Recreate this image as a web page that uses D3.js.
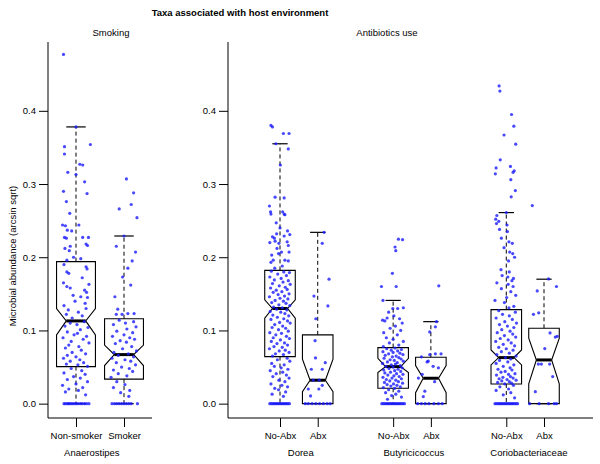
<!DOCTYPE html>
<html><head><meta charset="utf-8">
<script src="https://cdn.jsdelivr.net/npm/d3@7"></script>
<style>
body{margin:0;background:#fff;}
text{font-family:"Liberation Sans",Arial,Helvetica,sans-serif;}
</style></head>
<body><svg id="c" width="600" height="464"></svg>
<script>
// ---------- data ----------
const title = "Taxa associated with host environment";
const panelTitles = ["Smoking", "Antibiotics use"];
const yLabel = "Microbial abundance (arcsin sqrt)";
const yTicks = [0, 0.1, 0.2, 0.3, 0.4];
const categories = ["Non-smoker", "Smoker", "No-Abx", "Abx", "No-Abx", "Abx", "No-Abx", "Abx"];
const panelOf = [0, 0, 1, 1, 1, 1, 1, 1];
const positions = [1, 2, 1, 2, 4, 5, 7, 8];
const taxa = ["Anaerostipes", "Dorea", "Butyricicoccus", "Coriobacteriaceae"];
const taxaPanel = [0, 1, 1, 1];
const taxaCenter = [1.33, 1.55, 4.55, 7.6];

const whiskerHi = [0.378, 0.229, 0.355, 0.234, 0.141, 0.112, 0.261, 0.170];
const q3 = [0.194, 0.116, 0.182, 0.094, 0.0765, 0.0634, 0.1285, 0.103];
const median = [0.113, 0.067, 0.130, 0.032, 0.0506, 0.0347, 0.0629, 0.0597];
const q1 = [0.0506, 0.0335, 0.0643, 0, 0.021, 0, 0.0269, 0];
const whiskerLo = [0, 0, 0, 0, 0, 0, 0, 0];
const notchHi = [0.130, 0.080, 0.1417, 0.0607, 0.062, 0.052, 0.0734, 0.0894];
const notchLo = [0.094, 0.052, 0.1167, 0.0164, 0.0424, 0.015, 0.0529, 0.027];

// points: [value, horizontal jitter in category units]
const nonSmoker = [[0.477,-0.26],[0.378,0.0],[0.354,0.30],[0.351,-0.24],[0.341,-0.24],[0.327,0.08],[0.326,0.14],[0.316,-0.17],[0.313,0.0],[0.303,0.18],[0.290,-0.26],[0.287,0.23],[0.276,-0.20],[0.260,-0.13],[0.244,-0.28],[0.243,-0.22],[0.244,0.06],[0.237,-0.18],[0.236,-0.09],[0.227,-0.24],[0.226,-0.20],[0.227,0.14],[0.227,0.26],[0.218,0.21],[0.216,0.24],[0.212,-0.23],[0.215,-0.12],[0.209,-0.14],[0.200,-0.05],[0.198,0.10],[0.196,-0.19],
[0.190,-0.25],[0.187,0.21],[0.184,0.23],[0.180,-0.19],[0.178,-0.15],[0.172,0.13],[0.165,-0.26],[0.163,0.27],[0.160,-0.19],[0.158,-0.12],[0.155,0.18],[0.152,0.22],[0.148,-0.06],[0.146,0.10],[0.145,0.24],[0.140,-0.02],[0.137,0.19],[0.134,-0.25],[0.130,0.21],[0.128,-0.16],[0.125,0.05],[0.122,-0.20],[0.120,0.13],[0.117,-0.08],[0.112,0.17],[0.110,-0.12],[0.108,0.02],[0.106,-0.23],[0.104,0.25],[0.101,0.09],[0.098,-0.18],[0.096,0.03],[0.094,-0.04],[0.092,0.22],[0.090,-0.27],[0.088,0.15],[0.085,-0.10],[0.083,0.27],[0.080,-0.15],[0.078,0.06],[0.076,-0.22],[0.073,0.11],[0.070,-0.08],[0.068,0.20],[0.066,-0.18],[0.064,0.00],[0.062,-0.26],[0.060,0.08],[0.058,-0.12],[0.056,0.16],[0.054,-0.20],[0.053,0.04],[0.051,0.24],
[0.048,-0.10],[0.045,0.12],[0.042,-0.25],[0.040,0.19],[0.037,-0.05],[0.035,0.09],[0.033,-0.18],[0.030,0.24],[0.027,0.00],[0.025,-0.28],[0.022,0.14],[0.020,-0.15],[0.018,0.05],[0.016,-0.22],[0.012,0.20],
[0,-0.25],[0,-0.22],[0,-0.18],[0,-0.15],[0,-0.12],[0,-0.08],[0,-0.04],[0,0],[0,0.04],[0,0.09],[0,0.13],[0,0.18],[0,0.22],[0,0.27]];

const smoker = [[0.307,0.05],[0.288,0.20],[0.272,0.15],[0.266,-0.10],[0.254,0.27],[0.229,0.0],[0.215,-0.16],[0.207,0.24],[0.195,0.17],[0.185,0.08],[0.173,-0.03],[0.162,0.14],[0.146,-0.19],[0.129,-0.13],[0.122,-0.16],[0.122,-0.04],[0.123,0.08],[0.123,0.21],
[0.114,-0.10],[0.112,0.20],[0.110,0.03],[0.108,-0.22],[0.105,0.25],[0.102,0.06],[0.099,-0.15],[0.097,0.18],[0.094,0.00],[0.092,-0.24],[0.090,0.12],[0.088,0.22],[0.086,-0.08],[0.084,0.05],[0.082,-0.18],[0.078,0.16],[0.075,-0.03],[0.072,0.26],[0.070,-0.21],[0.068,0.09],[0.066,-0.12],[0.064,0.20],[0.062,-0.25],[0.060,0.02],[0.058,0.14],[0.056,-0.16],[0.053,0.24],[0.050,-0.05],[0.048,0.11],[0.046,-0.22],[0.044,0.18],[0.041,-0.12],[0.038,0.06],[0.036,-0.27],
[0.030,-0.15],[0.026,0.02],[0.022,-0.22],[0.018,0.12],[0.015,-0.07],[0.010,0.10],
[0,-0.25],[0,-0.2],[0,-0.15],[0,-0.1],[0,-0.05],[0,0],[0,0.05],[0,0.1],[0,0.15],[0,0.28]];

const doreaNoAbx = [[0.380,-0.24],[0.378,-0.20],[0.369,0.09],[0.369,0.24],[0.355,-0.11],[0.348,0.22],[0.326,0.01],[0.282,-0.13],[0.281,0.11],[0.270,-0.28],[0.262,-0.25],[0.259,-0.24],[0.262,0.07],[0.259,0.11],[0.258,0.13],[0.247,-0.10],[0.240,0.00],[0.236,0.20],[0.228,-0.20],[0.226,-0.15],[0.232,-0.09],[0.229,0.11],[0.231,0.26],[0.220,-0.27],[0.222,-0.13],[0.219,-0.03],[0.221,0.19],[0.216,0.22],[0.212,-0.08],[0.207,0.04],[0.205,-0.04],[0.207,0.24],[0.203,-0.22],[0.196,-0.18],[0.196,0.13],[0.195,0.22],[0.193,-0.24],[0.188,0.06],[0.185,-0.14],
[0.181,-0.23],[0.180,0.10],[0.179,0.25],[0.177,-0.06],[0.175,0.17],[0.173,-0.27],[0.171,0.03],[0.169,-0.15],[0.168,0.22],[0.166,0.08],[0.164,-0.20],[0.163,0.27],[0.161,-0.02],[0.159,0.14],[0.158,-0.25],[0.156,0.19],[0.155,-0.10],[0.153,0.05],[0.152,-0.18],[0.150,0.24],[0.149,-0.05],[0.147,0.12],[0.146,-0.28],[0.144,0.00],[0.143,0.21],[0.141,-0.13],[0.140,0.09],[0.138,-0.22],[0.137,0.16],[0.135,-0.03],[0.134,0.26],[0.132,-0.17],[0.131,0.06],[0.129,-0.09],[0.128,0.18],[0.126,-0.26],[0.125,0.02],[0.123,0.13],[0.121,-0.19],[0.120,0.23],[0.118,-0.07],[0.116,0.10],[0.115,-0.24],[0.113,0.20],[0.111,-0.01],[0.110,0.27],[0.108,-0.14],[0.106,0.07],[0.104,-0.21],[0.103,0.15],[0.101,-0.04],[0.099,0.22],[0.097,-0.27],[0.096,0.04],[0.094,-0.11],[0.092,0.17],[0.090,-0.18],[0.089,0.25],[0.087,0.01],[0.085,-0.23],[0.083,0.12],[0.082,-0.08],[0.080,0.20],[0.078,-0.16],[0.077,0.06],[0.075,-0.28],[0.073,0.14],[0.072,-0.02],[0.070,0.24],[0.068,-0.12],[0.067,0.09],[0.065,-0.20],
[0.062,0.19],[0.060,-0.07],[0.058,0.26],[0.055,-0.22],[0.053,0.11],[0.051,-0.15],[0.049,0.03],[0.047,0.21],[0.045,-0.26],[0.043,0.07],[0.041,-0.10],[0.039,0.17],[0.037,-0.19],[0.035,0.24],[0.032,-0.03],[0.030,0.13],[0.027,-0.24],[0.025,0.05],[0.023,0.20],[0.021,-0.14],[0.019,-0.04],[0.016,0.15],[0.013,-0.21],[0.010,0.09],
[0,-0.27],[0,-0.23],[0,-0.19],[0,-0.15],[0,-0.11],[0,-0.07],[0,-0.03],[0,0.01],[0,0.05],[0,0.09],[0,0.13],[0,0.17],[0,0.21],[0,0.25]];

const doreaAbx = [[0.234,0.17],[0.219,0.12],[0.170,0.30],[0.147,-0.10],[0.1335,0.27],[0.116,-0.05],[0.086,-0.07],[0.0625,-0.06],[0.056,0.20],[0.047,-0.17],[0.047,0.12],[0.032,-0.12],[0.032,0.04],[0.025,0.12],[0.020,-0.25],[0.020,0.03],[0.0105,-0.19],
[0,-0.33],[0,-0.25],[0,-0.15],[0,-0.05],[0,0.05],[0,0.15],[0,0.25],[0,0.33]];

const butyNoAbx = [[0.2246,0.14],[0.224,0.25],[0.214,0.05],[0.209,0.07],[0.178,-0.02],[0.160,-0.31],[0.160,0.08],[0.141,-0.27],[0.130,-0.01],[0.130,0.12],[0.131,0.27],[0.125,-0.12],[0.120,0.02],[0.117,-0.16],[0.114,-0.28],[0.113,-0.22],[0.116,0.17],[0.110,0.24],[0.106,0.06],[0.103,-0.08],[0.100,0.20],[0.097,-0.25],[0.094,0.11],[0.090,-0.18],[0.088,0.00],[0.085,0.27],[0.083,-0.10],[0.080,0.15],[0.078,-0.26],
[0.076,0.05],[0.075,-0.17],[0.074,0.22],[0.073,-0.05],[0.072,0.12],[0.071,-0.27],[0.070,0.00],[0.069,0.18],[0.068,-0.12],[0.067,0.26],[0.066,-0.21],[0.065,0.08],[0.064,-0.02],[0.063,0.15],[0.062,-0.24],[0.061,0.21],[0.060,-0.08],[0.059,0.03],[0.058,0.27],[0.057,-0.15],[0.056,0.11],[0.055,-0.28],[0.054,0.06],[0.053,-0.05],[0.052,0.19],[0.051,-0.19],[0.050,0.00],[0.049,0.24],[0.048,-0.11],[0.047,0.13],[0.046,-0.25],[0.045,0.04],[0.044,0.20],[0.043,-0.07],[0.042,-0.22],[0.041,0.09],[0.040,0.26],[0.039,-0.14],[0.038,0.02],[0.037,0.16],[0.036,-0.27],[0.035,-0.03],[0.034,0.22],[0.033,-0.18],[0.032,0.07],[0.031,-0.09],[0.030,0.14],[0.029,-0.23],[0.028,0.25],[0.027,0.01],[0.026,-0.16],[0.025,0.10],[0.024,-0.06],[0.023,0.19],[0.022,-0.26],[0.021,0.04],
[0.019,-0.12],[0.017,0.15],[0.015,-0.20],[0.013,0.07],[0.011,-0.04],[0.009,0.22],[0.006,-0.15],
[0,-0.30],[0,-0.26],[0,-0.22],[0,-0.18],[0,-0.14],[0,-0.10],[0,-0.06],[0,-0.02],[0,0.02],[0,0.06],[0,0.10],[0,0.14],[0,0.18],[0,0.22],[0,0.26],[0,0.30]];

const butyAbx = [[0.161,0.21],[0.112,0.15],[0.105,0.12],[0.098,-0.03],[0.068,0.12],[0.068,0.27],[0.067,-0.03],[0.064,-0.25],[0.058,-0.07],[0.057,-0.10],[0.051,0.06],[0.049,0.20],[0.040,-0.23],[0.035,-0.33],[0.030,0.10],[0.017,-0.16],[0.0096,-0.20],
[0,-0.35],[0,-0.25],[0,-0.15],[0,-0.05],[0,0.08],[0,0.20],[0,0.30]];

const corioNoAbx = [[0.434,-0.19],[0.427,-0.17],[0.395,0.14],[0.379,0.20],[0.367,-0.06],[0.3545,0.25],[0.333,-0.16],[0.322,-0.27],[0.324,0.11],[0.314,-0.29],[0.318,0.21],[0.316,0.18],[0.306,0.12],[0.291,0.24],[0.2825,0.13],
[0.261,0.0],[0.257,-0.25],[0.252,-0.28],[0.249,-0.20],[0.246,-0.26],[0.244,0.02],[0.238,-0.18],[0.235,0.03],[0.226,-0.13],[0.221,0.07],[0.219,0.16],[0.213,-0.06],[0.207,0.09],[0.205,0.17],[0.200,0.22],[0.195,0.06],[0.183,-0.14],[0.180,0.08],[0.175,-0.11],[0.173,0.04],[0.171,0.19],[0.168,0.15],[0.165,-0.25],[0.163,0.05],[0.160,0.18],[0.157,-0.13],[0.153,0.12],[0.148,0.25],[0.145,0.01],[0.141,-0.30],[0.138,-0.05],[0.133,0.20],[0.131,0.07],
[0.127,-0.20],[0.125,0.24],[0.122,-0.10],[0.120,0.08],[0.117,-0.27],[0.115,0.16],[0.112,-0.04],[0.110,0.27],[0.108,-0.18],[0.106,0.03],[0.104,0.20],[0.101,-0.12],[0.099,0.10],[0.097,-0.24],[0.095,0.17],[0.093,-0.05],[0.091,0.25],[0.089,-0.16],[0.087,0.05],[0.085,-0.28],[0.083,0.13],[0.081,-0.08],[0.079,0.22],[0.077,-0.20],[0.075,0.00],[0.073,0.18],[0.071,-0.13],[0.069,0.08],[0.067,-0.25],[0.065,0.26],[0.063,-0.02],[0.061,0.12],[0.059,-0.18],[0.057,0.04],[0.055,-0.27],[0.053,0.20],[0.051,-0.08],[0.049,0.10],[0.047,-0.22],[0.046,0.15],[0.044,-0.03],[0.043,-0.14],[0.041,0.23],[0.040,0.06],[0.039,-0.26],[0.037,0.11],[0.036,-0.09],[0.035,0.18],[0.034,-0.19],[0.033,0.02],[0.032,0.26],[0.031,-0.12],[0.030,0.08],[0.029,-0.23],[0.028,0.14],[0.027,-0.04],
[0.025,0.19],[0.023,-0.17],[0.020,0.06],[0.018,-0.27],[0.015,0.12],[0.012,-0.08],[0.008,0.22],
[0,-0.30],[0,-0.26],[0,-0.22],[0,-0.18],[0,-0.14],[0,-0.10],[0,-0.06],[0,-0.02],[0,0.02],[0,0.06],[0,0.10],[0,0.14],[0,0.18],[0,0.22],[0,0.26],[0,0.30]];

const corioAbx = [[0.2706,-0.31],[0.1704,0.12],[0.160,0.33],[0.154,-0.18],[0.124,-0.14],[0.122,-0.28],[0.0966,0.16],[0.091,0.30],[0.092,0.35],[0.0752,0.02],[0.054,-0.15],[0.054,-0.07],[0.054,0.15],[0.037,0.23],[0.0164,-0.23],
[0,-0.38],[0,-0.13],[0,0.12],[0,0.27],[0,0.33]];

const pointsByGroup = [nonSmoker, smoker, doreaNoAbx, doreaAbx, butyNoAbx, butyAbx, corioNoAbx, corioAbx];

// ---------- drawing ----------
const svg = d3.select("#c");
const FS = 9.5;
const y = d3.scaleLinear().domain([-0.0196, 0.494]).range([418, 42]);
const xScales = [
  d3.scaleLinear().domain([0.417, 2.583]).range([48, 152]),
  d3.scaleLinear().domain([-0.379, 9.299]).range([228, 593])
];
const boxHalf = 0.405;

svg.append("text").attr("x", 240).attr("y", 16).attr("text-anchor", "middle")
  .attr("font-size", FS).attr("font-weight", "bold").text(title);
const panelTitleX = [111, 387];
panelTitles.forEach((t, i) => {
  svg.append("text").attr("x", panelTitleX[i]).attr("y", 35.5).attr("text-anchor", "middle")
    .attr("font-size", FS).text(t);
});
svg.append("text").attr("transform", "translate(16,256) rotate(-90)").attr("text-anchor", "middle")
  .attr("font-size", FS).text(yLabel);

xScales.forEach((xs, p) => {
  const [x0, x1] = xs.range();
  svg.append("path").attr("d", `M${x0},${y.range()[1]}V${y.range()[0]}H${x1}`)
    .attr("fill", "none").attr("stroke", "#000").attr("stroke-width", 1);
  const ya = d3.axisLeft(y).tickValues(yTicks).tickFormat(d3.format(".1f")).tickSize(9).tickPadding(3).tickSizeOuter(0);
  const gy = svg.append("g").attr("transform", `translate(${x0},0)`).call(ya);
  gy.select(".domain").remove();
  gy.selectAll("text").attr("font-size", FS).attr("font-family", null);
  const idx = positions.map((d, i) => i).filter(i => panelOf[i] === p);
  const xa = d3.axisBottom(xs).tickValues(idx.map(i => positions[i]))
    .tickFormat((d, k) => categories[idx[k]]).tickSize(9).tickPadding(5).tickSizeOuter(0);
  const gx = svg.append("g").attr("transform", `translate(0,${y.range()[0]})`).call(xa);
  gx.select(".domain").remove();
  gx.selectAll("text").attr("font-size", FS).attr("font-family", null);
});

taxa.forEach((t, i) => {
  const xs = xScales[taxaPanel[i]];
  svg.append("text").attr("x", xs(taxaCenter[i])).attr("y", 455.5).attr("text-anchor", "middle")
    .attr("font-size", FS).text(t);
});

// boxes
categories.forEach((c, i) => {
  const xs = xScales[panelOf[i]];
  const cx = xs(positions[i]);
  const unit = xs(1) - xs(0);
  const hw = boxHalf * unit;
  const g = svg.append("g");
  g.append("line").attr("x1", cx).attr("x2", cx).attr("y1", y(q3[i])).attr("y2", y(whiskerHi[i]))
    .attr("stroke", "#000").attr("stroke-dasharray", "4,3");
  if (q1[i] > whiskerLo[i]) {
    g.append("line").attr("x1", cx).attr("x2", cx).attr("y1", y(q1[i])).attr("y2", y(whiskerLo[i]))
      .attr("stroke", "#000").attr("stroke-dasharray", "4,3");
  }
  [whiskerHi[i], whiskerLo[i]].forEach(v => {
    g.append("line").attr("x1", cx - hw / 2).attr("x2", cx + hw / 2).attr("y1", y(v)).attr("y2", y(v))
      .attr("stroke", "#000").attr("stroke-width", 1.2);
  });
  const pts = [
    [cx - hw, y(q1[i])], [cx - hw, y(notchLo[i])], [cx - hw / 2, y(median[i])], [cx - hw, y(notchHi[i])],
    [cx - hw, y(q3[i])], [cx + hw, y(q3[i])], [cx + hw, y(notchHi[i])], [cx + hw / 2, y(median[i])],
    [cx + hw, y(notchLo[i])], [cx + hw, y(q1[i])]
  ];
  g.append("path").attr("d", d3.line()(pts) + "Z").attr("fill", "none").attr("stroke", "#000").attr("stroke-width", 1.1);
  g.append("line").attr("x1", cx - hw / 2).attr("x2", cx + hw / 2).attr("y1", y(median[i])).attr("y2", y(median[i]))
    .attr("stroke", "#000").attr("stroke-width", 3);
});

// jittered points
pointsByGroup.forEach((arr, i) => {
  const xs = xScales[panelOf[i]];
  svg.append("g").selectAll("circle").data(arr).join("circle")
    .attr("cx", d => xs(positions[i] + d[1]))
    .attr("cy", d => y(d[0]))
    .attr("r", 1.6)
    .attr("fill", "#1a1aff").attr("fill-opacity", 0.8);
});
</script></body></html>
